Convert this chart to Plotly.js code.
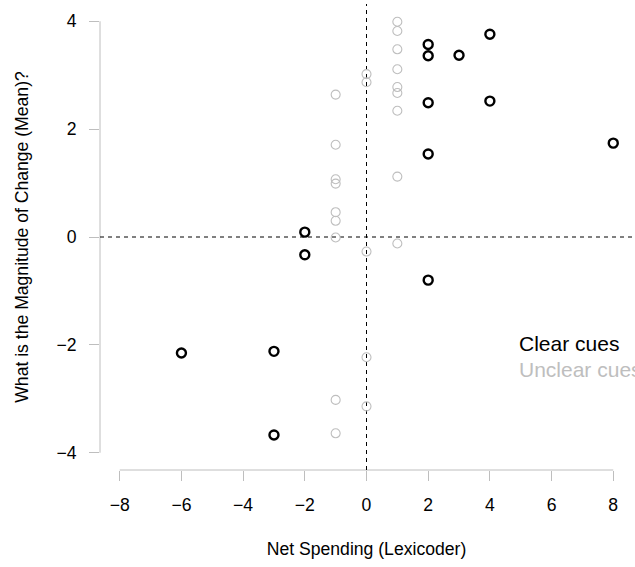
<!DOCTYPE html>
<html>
<head>
<meta charset="utf-8">
<script src="https://cdn.plot.ly/plotly-3.0.1.min.js"></script>
<style>html,body{margin:0;padding:0;background:#fff;}#chart{width:635px;height:567px;}</style>
</head>
<body>
<div id="chart"></div>
<script>
// Clear cues (black)
const clearX = [4, 2, 2, 3, 2, 4, 2, 8, -2, -2, 2, -3, -3, -6];
const clearY = [3.76, 3.57, 3.36, 3.37, 2.49, 2.52, 1.54, 1.74, 0.09, -0.33, -0.80, -2.12, -3.67, -2.15];
// Unclear cues (grey)
const unclearX = [1, 1, 1, 1, 1, 1, 1, 1, 1, 0, 0, 0, 0, 0, -1, -1, -1, -1, -1, -1, -1, -1, -1];
const unclearY = [3.99, 3.82, 3.48, 3.11, 2.78, 2.67, 2.34, 1.12, -0.12, 3.02, 2.87, -0.27, -2.23, -3.14, 2.64, 1.71, 1.07, 0.99, 0.46, 0.30, -0.01, -3.02, -3.64];
const xTicks = [-8, -6, -4, -2, 0, 2, 4, 6, 8];
const yTicks = [-4, -2, 0, 2, 4];
const legendLabels = ["Clear cues", "Unclear cues"];

const FONT = "Liberation Sans, Arial, Helvetica, sans-serif";
const GREY = "#bebebe";
const FS = 17.6;
const tickText = v => (v < 0 ? "\u2212" + Math.abs(v) : String(v));

const traces = [
  {
    x: unclearX, y: unclearY, type: "scatter", mode: "markers", name: legendLabels[1],
    marker: {symbol: "circle-open", size: 9, color: GREY, line: {color: GREY, width: 1.1}},
    hoverinfo: "x+y"
  },
  {
    x: clearX, y: clearY, type: "scatter", mode: "markers", name: legendLabels[0],
    marker: {symbol: "circle-open", size: 9, color: "#000", line: {color: "#000", width: 2.4}},
    hoverinfo: "x+y"
  }
];

const layout = {
  width: 635, height: 567,
  margin: {l: 100, r: 2, t: 4, b: 97},
  paper_bgcolor: "#fff", plot_bgcolor: "#fff",
  showlegend: false,
  font: {family: FONT, size: FS, color: "#000"},
  xaxis: {
    range: [-8.64, 8.64], showgrid: false, zeroline: false, showline: false,
    tickmode: "array", tickvals: xTicks, ticktext: xTicks.map(tickText),
    ticks: "outside", ticklen: 10, tickcolor: GREY, tickwidth: 1,
    ticklabelstandoff: 9,
    tickfont: {family: FONT, size: FS, color: "#000"},
    title: {text: "Net Spending (Lexicoder)", font: {family: FONT, size: FS, color: "#000"}, standoff: 28},
    automargin: false, fixedrange: true
  },
  yaxis: {
    range: [-4.32, 4.32], showgrid: false, zeroline: false, showline: false,
    tickmode: "array", tickvals: yTicks, ticktext: yTicks.map(tickText),
    ticks: "outside", ticklen: 10, tickcolor: GREY, tickwidth: 1,
    ticklabelstandoff: 9,
    tickfont: {family: FONT, size: FS, color: "#000"},
    title: {text: "What is the Magnitude of Change (Mean)?", font: {family: FONT, size: FS, color: "#000"}, standoff: 23},
    automargin: false, fixedrange: true
  },
  shapes: [
    {type: "line", xref: "x", yref: "paper", x0: xTicks[0], x1: xTicks[xTicks.length - 1], y0: 0, y1: 0,
     line: {color: GREY, width: 1}, layer: "below"},
    {type: "line", xref: "paper", yref: "y", x0: 0, x1: 0, y0: yTicks[0], y1: yTicks[yTicks.length - 1],
     line: {color: GREY, width: 1}, layer: "below"},
    {type: "line", xref: "paper", yref: "y", x0: 0, x1: 1, y0: 0, y1: 0,
     line: {color: "#000", width: 1, dash: "4px,4px"}, layer: "below"},
    {type: "line", xref: "x", yref: "paper", x0: 0, x1: 0, y0: 0, y1: 1,
     line: {color: "#000", width: 1, dash: "4px,4px"}, layer: "below"}
  ],
  annotations: [
    {xref: "x", yref: "y", x: 4.88, y: -1.98, xanchor: "left", yanchor: "middle", showarrow: false,
     text: legendLabels[0], font: {family: FONT, size: 21, color: "#000"}},
    {xref: "x", yref: "y", x: 4.88, y: -2.46, xanchor: "left", yanchor: "middle", showarrow: false,
     text: legendLabels[1], font: {family: FONT, size: 21, color: GREY}}
  ]
};

Plotly.newPlot("chart", traces, layout, {displayModeBar: false, staticPlot: true});
</script>
</body>
</html>
